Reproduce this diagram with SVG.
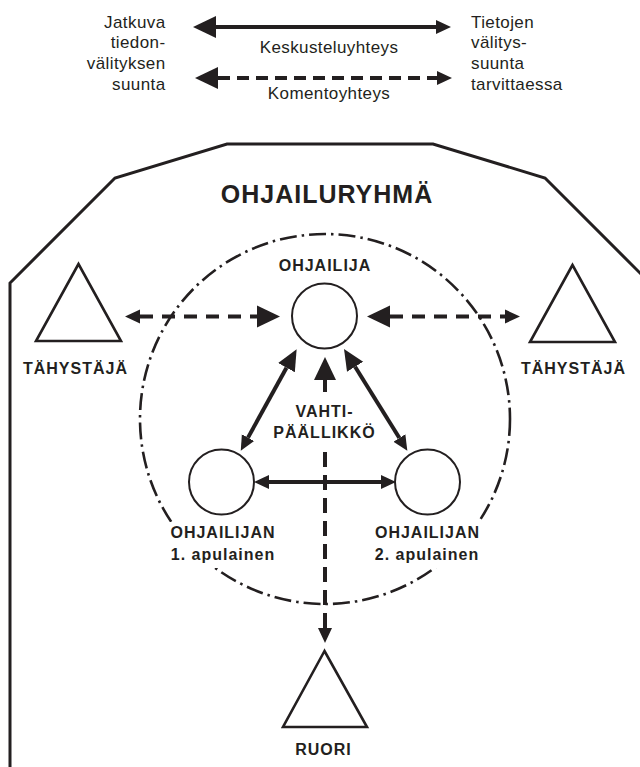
<svg xmlns="http://www.w3.org/2000/svg" width="640" height="767" viewBox="0 0 640 767">
<style>
.ln{stroke:#231f20;stroke-width:4;fill:none}
.dl{stroke-dasharray:13 9}
.t{font-family:"Liberation Sans",Arial,sans-serif;fill:#231f20}
.lg{font-size:17px;letter-spacing:0.4px}
.b{font-size:16px;font-weight:bold;letter-spacing:1px;text-anchor:middle}
.node{fill:#fff;stroke:#231f20;stroke-width:2}
.tri{fill:#fff;stroke:#231f20;stroke-width:2.6}
.hd{fill:#231f20}
.ko{fill:#fff}
</style>
<defs>
<marker id="big" markerUnits="userSpaceOnUse" markerWidth="24" markerHeight="24" viewBox="0 -12 24 24" refX="0" refY="0" orient="auto-start-reverse"><path class="hd" d="M0,-11 L23,0 L0,11z"/></marker>
<marker id="mid" markerUnits="userSpaceOnUse" markerWidth="22" markerHeight="20" viewBox="0 -10 22 20" refX="0" refY="0" orient="auto-start-reverse"><path class="hd" d="M0,-9.5 L21,0 L0,9.5z"/></marker>
<marker id="small" markerUnits="userSpaceOnUse" markerWidth="16" markerHeight="16" viewBox="0 -8 16 16" refX="0" refY="0" orient="auto-start-reverse"><path class="hd" d="M0,-7 L15,0 L0,7z"/></marker>
</defs>
<rect width="640" height="767" fill="#fff"/>

<g id="legend">
<g class="t lg" text-anchor="end">
<text x="165.5" y="28">Jatkuva</text>
<text x="165.5" y="48">tiedon-</text>
<text x="165.5" y="68.7">välityksen</text>
<text x="165.5" y="89.5">suunta</text>
</g>
<g class="t lg">
<text x="471" y="28">Tietojen</text>
<text x="471" y="48">välitys-</text>
<text x="471" y="68.7">suunta</text>
<text x="471" y="89.5">tarvittaessa</text>
<text x="329" y="53" text-anchor="middle">Keskusteluyhteys</text>
<text x="329" y="99" text-anchor="middle">Komentoyhteys</text>
</g>
<path class="ln" d="M216,27 H436" marker-start="url(#big)" marker-end="url(#small)"/>
<path class="ln" d="M218,78 H437" style="stroke-dasharray:12 7" marker-start="url(#big)" marker-end="url(#small)"/>
</g>

<g id="ohjailuryhma">
<polyline points="10,767 10,283 115,178 227,144 433,144 545,178 645,278" fill="none" stroke="#231f20" stroke-width="3"/>
<text class="t" x="327" y="203" font-size="25" font-weight="bold" letter-spacing="1" text-anchor="middle">OHJAILURYHMÄ</text>
</g>

<g id="vahtipaallikko-alue">
<circle cx="325" cy="419" r="185" fill="none" stroke="#231f20" stroke-width="2.6" stroke-dasharray="17 5 2.5 5"/>
</g>

<g id="connectors">
<path class="ln dl" d="M140,316.5 H257" marker-start="url(#small)" marker-end="url(#big)"/>
<path class="ln dl" d="M390,316.5 H505" marker-start="url(#big)" marker-end="url(#small)"/>
<path class="ln" d="M325,380 V392" marker-start="url(#big)"/>
<path class="ln" d="M325,452 V628" style="stroke-dasharray:15 8" marker-end="url(#small)"/>
<path class="ln" d="M286.5,367.7 L248,437.6" marker-start="url(#mid)" marker-end="url(#small)"/>
<path class="ln" d="M355.1,366.8 L399.4,438" marker-start="url(#mid)" marker-end="url(#small)"/>
<path class="ln" d="M269,482 H381" marker-start="url(#small)" marker-end="url(#small)"/>
</g>

<g id="ohjailija">
<circle class="node" cx="324.5" cy="316" r="32.5"/>
<text class="t b" x="325" y="271">OHJAILIJA</text>
</g>

<g id="tahystaja-vasen">
<polygon class="tri" points="78.5,264 36,341 121,341"/>
<text class="t b" x="75.5" y="374">TÄHYSTÄJÄ</text>
</g>

<g id="tahystaja-oikea">
<polygon class="tri" points="572.5,265 530,342 615,342"/>
<text class="t b" x="573.5" y="373.5">TÄHYSTÄJÄ</text>
</g>

<g id="vahtipaallikko">
<text class="t b" x="324.5" y="416.7">VAHTI-</text>
<text class="t b" x="324.5" y="438.3">PÄÄLLIKKÖ</text>
</g>

<g id="apulainen1">
<circle class="node" cx="221.5" cy="482" r="32.5"/>
<rect class="ko" x="165" y="522" width="116" height="46"/>
<text class="t b" x="223" y="538.3">OHJAILIJAN</text>
<text class="t b" x="223" y="560">1. apulainen</text>
</g>

<g id="apulainen2">
<circle class="node" cx="427.5" cy="482" r="32.5"/>
<rect class="ko" x="369" y="522" width="117" height="46"/>
<text class="t b" x="427.5" y="538.3">OHJAILIJAN</text>
<text class="t b" x="427" y="560">2. apulainen</text>
</g>

<g id="ruori">
<polygon class="tri" points="324.5,651 283,727 367,727"/>
<text class="t b" x="323.5" y="755">RUORI</text>
</g>
</svg>
